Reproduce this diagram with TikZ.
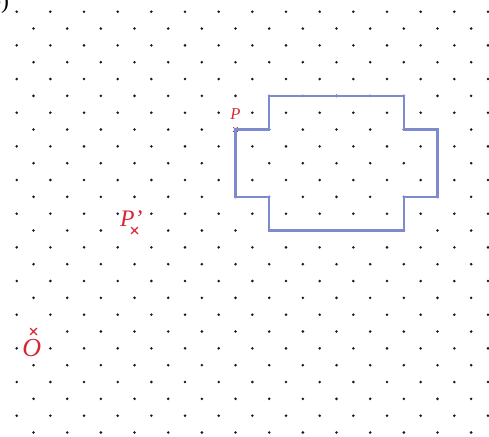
\documentclass[tikz,border=0pt]{standalone}
\usepackage{fontspec}
\setmainfont{Liberation Serif}
\usepackage{tikz}
\usetikzlibrary{shapes.misc, positioning}
\definecolor{shapeblue}{RGB}{126, 138, 206}
\definecolor{markred}{RGB}{214, 40, 52}
\definecolor{dotgray}{RGB}{25, 25, 25}

\tikzset{
  griddot/.style={fill=dotgray},
  crossmark/.style={draw=markred, cross out, line width=1.1pt, minimum size=4.6pt, inner sep=0pt},
  ptlabel/.style={text=markred, inner sep=0pt, font=\itshape},
}

\begin{document}
\begin{tikzpicture}[x=0.5cm, y=-0.5cm]
  \clip (-0.992, -0.695) rectangle (28.06, 25.21);
  \useasboundingbox (-0.992, -0.695) rectangle (28.06, 25.21);

  % Part label (cut at the edge)
  \node[anchor=base east, inner sep=0pt, font=\fontsize{20}{20}\selectfont] (partlabel) at (-0.44, -0.2) {b)};

  % Dot grid
  \foreach \j in {0,2,...,24}
    \foreach \i in {0,2,...,28}
      \fill[griddot] (\i,\j) circle (1.2pt);
  \foreach \j in {1,3,...,25}
    \foreach \i in {1,3,...,27} {
      \pgfmathtruncatemacro{\keepdot}{((\i==1 && \j==19) || (\i==7 && \j==13)) ? 0 : 1}
      \ifnum\keepdot=1 \fill[griddot] (\i,\j) circle (1.2pt); \fi
    }

  % Point P on the shape
  \node[crossmark, minimum size=3pt, line width=0.8pt] (P) at (13,7) {};

  % Shape
  \draw[shapeblue, line width=2.2pt, line join=miter]
    (15,5) -- (23,5) -- (23,7) -- (25,7) -- (25,11) -- (23,11) -- (23,13)
    -- (15,13) -- (15,11) -- (13,11) -- (13,7) -- (15,7) -- cycle;

  % Centre and image point
  \node[crossmark] (O) at (1,19) {};
  \node[crossmark] (Pimage) at (7,13) {};

  % Labels
  \node[ptlabel, anchor=base, font=\itshape\fontsize{14}{14}\selectfont] (Plabel) at (12.99, 6.38) {P};
  \node[ptlabel, anchor=base, font=\itshape\fontsize{20}{20}\selectfont] (Pimagelabel) at (6.81, 12.77) {P’};
  \node[ptlabel, anchor=base, font=\itshape\fontsize{22}{22}\selectfont] (Olabel) at (0.89, 20.5) {O};
\end{tikzpicture}
\end{document}
